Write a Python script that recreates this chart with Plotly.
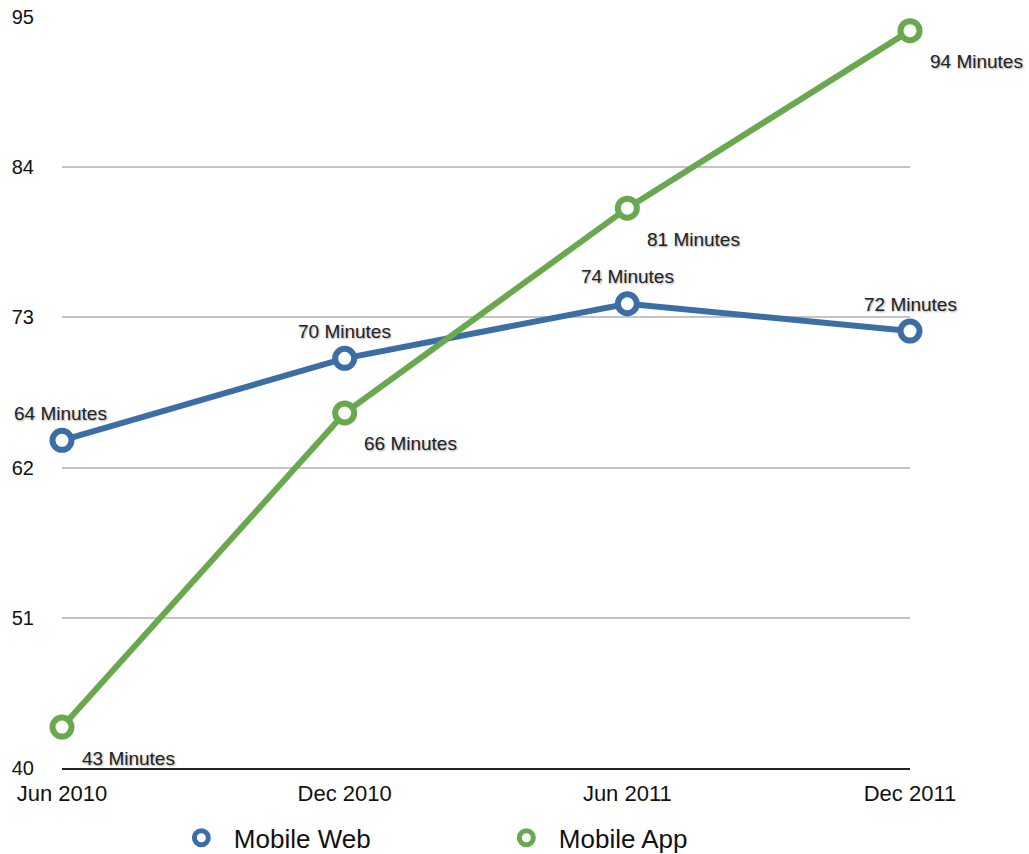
import plotly.graph_objects as go

periods = ["Jun 2010", "Dec 2010", "Jun 2011", "Dec 2011"]
mobile_web = [64, 70, 74, 72]
mobile_app = [43, 66, 81, 94]
y_ticks = [40, 51, 62, 73, 84, 95]

BLUE = "#3c6ea6"
GREEN = "#6aa84f"
FONT = "Liberation Sans, Arial, sans-serif"

fig = go.Figure()

for name, vals, col in [("Mobile Web", mobile_web, BLUE), ("Mobile App", mobile_app, GREEN)]:
    fig.add_trace(go.Scatter(
        x=periods, y=vals, mode="lines+markers", name=name, showlegend=False,
        line=dict(color=col, width=6),
        marker=dict(symbol="circle", size=19, color="white", line=dict(color=col, width=6)),
        cliponaxis=False, hoverinfo="skip",
    ))

for name, col in [("Mobile Web", BLUE), ("Mobile App", GREEN)]:
    fig.add_trace(go.Scatter(
        x=[None], y=[None], mode="markers", name=name,
        marker=dict(symbol="circle", size=14, color="white", line=dict(color=col, width=5)),
    ))

shadow = "1px 1px 2px rgba(0,0,0,0.35)"
for i, (p, v) in enumerate(zip(periods, mobile_web)):
    fig.add_annotation(x=p, y=v, text=f"{v} Minutes", showarrow=False,
                       xshift=-2 if i == 0 else 0, yshift=27,
                       font=dict(family=FONT, size=19, color="#222", shadow=shadow))
for p, v in zip(periods, mobile_app):
    fig.add_annotation(x=p, y=v, text=f"{v} Minutes", showarrow=False,
                       xshift=66, yshift=-31,
                       font=dict(family=FONT, size=19, color="#222", shadow=shadow))

fig.update_layout(
    width=1029, height=854,
    margin=dict(l=62, r=119, t=17, b=86, autoexpand=False),
    plot_bgcolor="white", paper_bgcolor="white",
    font=dict(family=FONT, color="#111"),
    showlegend=True,
    legend=dict(orientation="h", x=0.126, xanchor="left", y=-0.093, yanchor="middle",
                font=dict(size=26, color="#111"), entrywidth=255, itemwidth=55),
    xaxis=dict(type="category", range=[0, 3], showgrid=False, showline=True,
               linecolor="#222", linewidth=1.5, ticks="", tickfont=dict(size=22),
               ticklabelstandoff=5, zeroline=False, fixedrange=True),
    yaxis=dict(range=[40, 95], tickvals=y_ticks, showgrid=True, gridcolor="#c4c4c4",
               gridwidth=1.5, showline=False, zeroline=False, ticks="",
               tickfont=dict(size=20), ticklabelstandoff=27),
)

fig.write_html("out.html")
